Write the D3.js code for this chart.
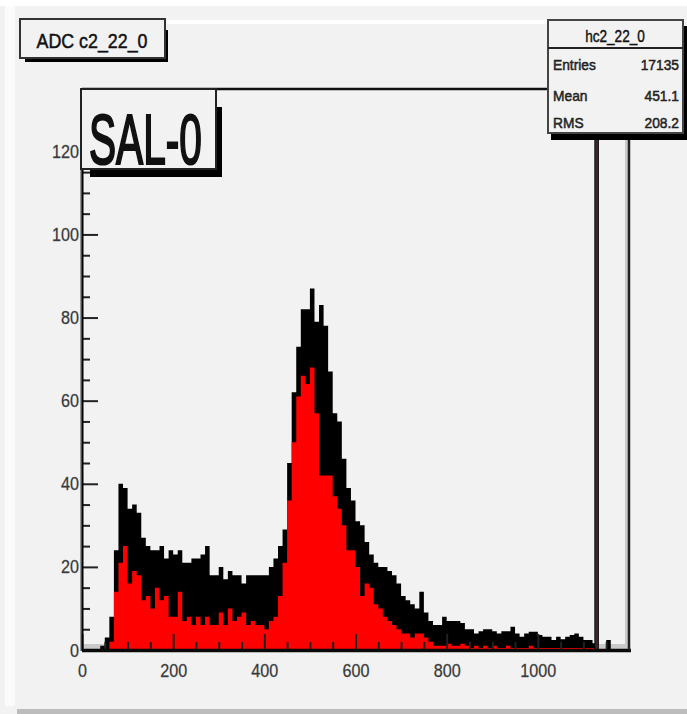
<!DOCTYPE html>
<html>
<head>
<meta charset="utf-8">
<script src="https://d3js.org/d3.v7.min.js"></script>
<style>
  body { margin: 0; background: #f2f2f2; }
  svg { display: block; font-family: "Liberation Sans", Arial, sans-serif; }
</style>
</head>
<body>
<div id="chart"></div>
<script>
// histogram hc2_22_0, bins of 10 ADC counts from 0 to 1200
var binWidth = 10;
// top of the black (noisy) band per bin
var blackTop = [
  0, 0, 0, 0, 1, 3, 8, 24, 40, 39,
  34, 35, 33, 27, 25, 24, 24, 25, 22, 24,
  23, 24, 21, 21, 22, 22, 23, 25, 18, 18,
  20, 17, 19, 18, 18, 16, 18, 18, 18, 18,
  18, 20, 22, 25, 29, 45, 62, 73, 82, 82,
  87, 79, 83, 78, 67, 57, 55, 46, 39, 36,
  31, 30, 26, 23, 21, 20, 20, 19, 18, 16,
  13, 12, 11, 10, 14, 9, 7, 6, 6, 8,
  7, 7, 7, 6.5, 5, 5, 4, 4.5, 5, 5,
  4.5, 4, 4.5, 4.5, 5.6, 4, 3.2, 4, 4.4, 4.4,
  3.6, 3.2, 3.2, 2.4, 3.2, 2.6, 3.2, 3.6, 4, 3.2,
  2.4, 2.4, 1.6, 0, 0, 2.4, 0, 0, 0, 0
];
// top of the red fill per bin
var redTop = [
  0, 0, 0, 0, 0, 0, 2, 14, 21, 25,
  16, 19, 18, 12, 13, 10, 15, 12, 13, 8,
  8, 14, 7, 8, 6, 8, 6, 8, 6, 6,
  9, 6, 10, 7, 8, 9, 6, 7, 6, 6,
  5, 7, 8, 13, 21, 36, 50, 61, 66, 64,
  68, 57, 42, 42, 42, 37, 34, 30, 24, 24,
  20, 13, 16, 15, 11, 10, 8, 7, 6, 5,
  4, 4, 3, 4, 4, 3, 2, 1, 1, 1,
  1.5, 1, 1, 1.5, 1, 0.5, 1, 0.5, 1, 0.5,
  1, 0.5, 0.5, 1, 0.5, 0.5, 0.5, 0.5, 1, 0.5,
  0.5, 0.5, 0.5, 0.5, 0.5, 0.5, 0.5, 0.5, 0.5, 0.5,
  0.5, 0.5, 0.5, 0, 0, 0, 0, 0, 0, 0
];
// one huge bin near the end, goes off the top of the frame
var spikeBin = [1125, 1133];
var spikeCount = 300;

var xMajor = [0, 200, 400, 600, 800, 1000];
var xMinor = [50, 100, 150, 250, 300, 350, 450, 500, 550, 650, 700, 750, 850, 900, 950, 1050, 1100, 1150];
var yMajor = [0, 20, 40, 60, 80, 100, 120];
var yMinor = [5, 10, 15, 25, 30, 35, 45, 50, 55, 65, 70, 75, 85, 90, 95, 105, 110, 115, 125, 130];

var histTitle = "ADC c2_22_0";
var statsName = "hc2_22_0";
var statsLabels = ["Entries", "Mean", "RMS"];
var statsValues = ["17135", "451.1", "208.2"];
var padLabel = "SAL-0";

var W = 687, H = 714;
var fx0 = 82, fx1 = 629, fy0 = 89, fy1 = 650;

var x = d3.scaleLinear().domain([0, 1200]).range([fx0, fx1]);
var y = d3.scaleLinear().domain([0, 135]).range([fy1, fy0]);

var svg = d3.select("#chart").append("svg")
  .attr("width", W)
  .attr("height", H);

// canvas background
svg.append("rect").attr("width", W).attr("height", H).attr("fill", "#f2f2f2");
svg.append("rect").attr("x", 0).attr("y", 0).attr("width", W).attr("height", 6).attr("fill", "#ffffff");
svg.append("rect").attr("x", 5).attr("y", 6).attr("width", 10).attr("height", 700).attr("fill", "#fbfbfb");
svg.append("rect").attr("x", 17).attr("y", 709).attr("width", W - 17).attr("height", 5).attr("fill", "#bcbcbc");
svg.append("rect").attr("x", 167).attr("y", 20).attr("width", 381).attr("height", 4).attr("fill", "#ffffff");

// inner bevel of the frame
svg.append("rect").attr("x", fx0).attr("y", fy1 - 6).attr("width", fx1 - fx0).attr("height", 6).attr("fill", "#c9c9c9");
svg.append("rect").attr("x", fx1 - 4).attr("y", fy0).attr("width", 3).attr("height", fy1 - fy0).attr("fill", "#c9c9c9");

svg.append("clipPath").attr("id", "frameClip")
  .append("rect")
  .attr("x", fx0).attr("y", fy0)
  .attr("width", fx1 - fx0).attr("height", fy1 - fy0);

var hist = svg.append("g").attr("clip-path", "url(#frameClip)");

function stepPoints(vals) {
  var pts = vals.map(function(v, i) { return {u: i * binWidth, v: v}; });
  pts.push({u: vals.length * binWidth, v: vals[vals.length - 1]});
  return pts;
}

var area = d3.area()
  .curve(d3.curveStepAfter)
  .x(function(d) { return x(d.u); })
  .y0(y(0))
  .y1(function(d) { return y(d.v); });

hist.append("path")
  .datum(stepPoints(blackTop))
  .attr("fill", "#000000")
  .attr("d", area);

hist.append("path")
  .datum(stepPoints(redTop))
  .attr("fill", "#ff0000")
  .attr("d", area);

hist.append("rect")
  .attr("x", x(spikeBin[0]))
  .attr("width", x(spikeBin[1]) - x(spikeBin[0]))
  .attr("y", y(spikeCount))
  .attr("height", y(0) - y(spikeCount))
  .attr("fill", "#3a2626")
  .attr("stroke", "#000")
  .attr("stroke-width", 0.8);

// axes, ticks point into the frame
var xAxisMajor = svg.append("g")
  .attr("transform", "translate(0," + fy1 + ")")
  .call(d3.axisBottom(x).tickValues(xMajor).tickSize(-16).tickPadding(14).tickFormat(d3.format("d")));
var xAxisMinor = svg.append("g")
  .attr("transform", "translate(0," + fy1 + ")")
  .call(d3.axisBottom(x).tickValues(xMinor).tickSize(-8).tickFormat(""));
var yAxisMajor = svg.append("g")
  .attr("transform", "translate(" + fx0 + ",0)")
  .call(d3.axisLeft(y).tickValues(yMajor).tickSize(-16).tickPadding(3).tickFormat(d3.format("d")));
var yAxisMinor = svg.append("g")
  .attr("transform", "translate(" + fx0 + ",0)")
  .call(d3.axisLeft(y).tickValues(yMinor).tickSize(-8).tickFormat(""));

[xAxisMajor, xAxisMinor, yAxisMajor, yAxisMinor].forEach(function(g) {
  g.select(".domain").remove();
  g.selectAll(".tick line").attr("stroke", "#222").attr("stroke-width", 2);
  g.selectAll(".tick text")
    .attr("fill", "#333")
    .attr("stroke", "#555")
    .attr("stroke-width", 0.3)
    .style("font-size", "19px");
});
xAxisMajor.selectAll(".tick text")
  .attr("dy", "0.71em")
  .attr("transform", "scale(0.85,1)");
yAxisMajor.selectAll(".tick text")
  .attr("transform", "scale(0.85,1)")
  .attr("x", -3 / 0.85);

// frame lines
svg.append("line").attr("x1", fx0 - 1).attr("x2", fx0 - 1).attr("y1", fy0).attr("y2", fy1 + 1)
  .attr("stroke", "#777").attr("stroke-width", 1.5);
svg.append("line").attr("x1", fx0 + 0.5).attr("x2", fx0 + 0.5).attr("y1", fy0).attr("y2", fy1 + 1)
  .attr("stroke", "#000").attr("stroke-width", 2);
svg.append("line").attr("x1", fx0).attr("x2", fx1 + 2).attr("y1", fy1 + 0.5).attr("y2", fy1 + 0.5)
  .attr("stroke", "#0a0a0a").attr("stroke-width", 3.5);
svg.append("line").attr("x1", fx0).attr("x2", fx1 + 2).attr("y1", fy0).attr("y2", fy0)
  .attr("stroke", "#111").attr("stroke-width", 2.5);
svg.append("line").attr("x1", fx1).attr("x2", fx1).attr("y1", fy0).attr("y2", fy1)
  .attr("stroke", "#222").attr("stroke-width", 2.5);

function squeezedText(g, str, px, py, size, sx, anchor, weight) {
  return g.append("text")
    .attr("transform", "translate(" + px + "," + py + ") scale(" + sx + ",1)")
    .attr("text-anchor", anchor || "start")
    .style("font-size", size + "px")
    .attr("fill", "#111")
    .attr("stroke", "#111")
    .attr("stroke-width", weight || 0)
    .text(str);
}

// big pad label with shadow
svg.append("rect").attr("x", 90).attr("y", 107).attr("width", 132).attr("height", 70).attr("fill", "#000");
svg.append("rect").attr("x", 81).attr("y", 89).attr("width", 135).attr("height", 80)
  .attr("fill", "#f2f2f2").attr("stroke", "#222").attr("stroke-width", 2);
squeezedText(svg, padLabel, 89, 164, 70, 0.58, "start", 2.2);

// title box
svg.append("rect").attr("x", 25).attr("y", 30).attr("width", 143).attr("height", 32).attr("fill", "#000");
svg.append("rect").attr("x", 20).attr("y", 19).attr("width", 145).attr("height", 39)
  .attr("fill", "#f2f2f2").attr("stroke", "#333").attr("stroke-width", 2);
squeezedText(svg, histTitle, 92, 48, 21, 0.85, "middle", 0.5);

// stats box
svg.append("rect").attr("x", 551).attr("y", 26).attr("width", 136).attr("height", 114).attr("fill", "#000");
svg.append("rect").attr("x", 548).attr("y", 20).attr("width", 135).attr("height", 113)
  .attr("fill", "#f2f2f2").attr("stroke", "#444").attr("stroke-width", 2);
svg.append("line").attr("x1", 548).attr("x2", 683).attr("y1", 48).attr("y2", 48)
  .attr("stroke", "#222").attr("stroke-width", 2);
squeezedText(svg, statsName, 615, 42, 16, 0.85, "middle", 0.4);
var rowY = [70, 101, 128];
statsLabels.forEach(function(lab, i) {
  squeezedText(svg, lab, 553, rowY[i], 15, 0.92, "start", 0.5).attr("fill", "#333");
  squeezedText(svg, statsValues[i], 679, rowY[i], 15, 0.92, "end", 0.5).attr("fill", "#333");
});
</script>
</body>
</html>
